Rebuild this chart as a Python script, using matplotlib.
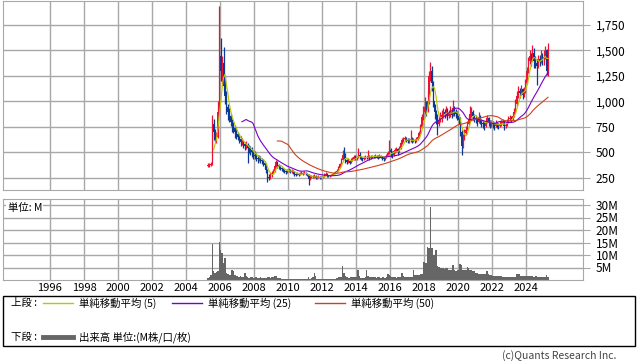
import numpy as np
import pandas as pd
import matplotlib
matplotlib.use('Agg')
import matplotlib.pyplot as plt
from matplotlib.lines import Line2D
from matplotlib.patches import Rectangle

plt.rcParams['font.family'] = ['Noto Sans CJK JP', 'DejaVu Sans']

# monthly candles, Apr 2005 .. Apr 2025
first_open = 370
closes = [
    375, 382, 390, 780, 700, 640, 650, 900, 1450,                      # 2005
    1300, 1380, 1150, 1050, 950, 900, 860, 800, 760, 740, 700, 680,    # 2006
    650, 630, 600, 610, 580, 560, 570, 540, 530, 520, 500, 480,        # 2007
    470, 450, 440, 450, 430, 420, 400, 380, 330, 260, 250, 280,        # 2008
    300, 320, 370, 410, 380, 360, 350, 340, 330, 320, 310, 320,        # 2009
    330, 310, 320, 310, 290, 280, 290, 280, 290, 300, 290, 300,        # 2010
    290, 280, 240, 260, 265, 260, 270, 250, 255, 260, 250, 255,        # 2011
    260, 280, 290, 275, 265, 270, 280, 290, 300, 310, 320, 350,        # 2012
    390, 430, 480, 470, 430, 410, 420, 400, 430, 440, 460, 450,        # 2013
    450, 480, 460, 445, 440, 450, 460, 455, 470, 450, 460, 465,        # 2014
    460, 470, 465, 455, 470, 460, 450, 440, 450, 470, 490, 520,        # 2015
    500, 480, 510, 520, 530, 500, 540, 590, 620, 630, 640, 620,        # 2016
    610, 620, 630, 615, 620, 610, 630, 650, 690, 750, 850, 900,        # 2017
    950, 920, 1000, 1250, 1300, 1180, 1000, 900, 850, 780, 820, 850,   # 2018
    870, 900, 880, 920, 860, 880, 900, 870, 940, 900, 880, 860,        # 2019
    820, 700, 560, 640, 690, 720, 780, 830, 880, 900, 860, 840,        # 2020
    830, 800, 850, 820, 790, 780, 760, 800, 840, 800, 770, 790,        # 2021
    780, 760, 790, 770, 760, 780, 790, 800, 760, 770, 800, 830,        # 2022
    840, 830, 860, 900, 980, 1050, 1100, 1080, 1120, 1060, 1100, 1180, # 2023
    1300, 1400, 1450, 1420, 1480, 1400, 1380, 1350, 1420, 1400, 1450, 1420,  # 2024
    1440, 1500, 1300, 1450,                                            # 2025
]
highs = [
    392, 398, 410, 870, 830, 730, 700, 1000, 1936,
    1620, 1450, 1534, 1250, 1100, 980, 940, 880, 830, 800, 770, 740,
    700, 680, 660, 640, 620, 600, 610, 590, 570, 560, 550, 520,
    510, 490, 480, 480, 470, 450, 440, 420, 400, 340, 290, 310,
    320, 340, 390, 426, 420, 390, 370, 360, 350, 340, 330, 340,
    345, 335, 335, 330, 315, 300, 305, 300, 305, 315, 310, 315,
    310, 300, 285, 275, 280, 275, 285, 275, 270, 275, 270, 268,
    270, 295, 305, 295, 280, 280, 290, 300, 310, 320, 335, 365,
    400, 450, 520, 555, 490, 440, 445, 430, 445, 455, 480, 475,
    470, 545, 500, 470, 460, 465, 475, 470, 520, 475, 475, 480,
    480, 485, 480, 475, 485, 480, 470, 460, 465, 485, 510, 622,
    540, 510, 525, 540, 550, 540, 560, 610, 640, 650, 660, 650,
    640, 645, 720, 650, 640, 635, 650, 670, 710, 780, 880, 960,
    1040, 1000, 1100, 1300, 1387, 1350, 1200, 980, 920, 880, 860, 900,
    920, 940, 930, 960, 940, 920, 960, 930, 1015, 960, 930, 910,
    880, 850, 720, 680, 730, 760, 810, 870, 960, 950, 920, 880,
    870, 850, 900, 870, 830, 820, 800, 830, 870, 850, 820, 820,
    810, 800, 820, 800, 790, 810, 820, 830, 810, 800, 830, 860,
    870, 860, 890, 940, 1020, 1100, 1150, 1130, 1160, 1130, 1140, 1220,
    1340, 1440, 1500, 1480, 1553, 1520, 1450, 1420, 1460, 1460, 1500, 1480,
    1500, 1540, 1510, 1573,
]
lows = [
    358, 362, 368, 380, 620, 600, 590, 640, 880,
    1200, 1150, 1100, 980, 880, 820, 800, 760, 700, 690, 640, 630,
    620, 590, 560, 570, 540, 520, 530, 400, 490, 480, 460, 440,
    440, 420, 400, 420, 400, 390, 370, 340, 300, 210, 230, 240,
    260, 290, 310, 360, 350, 340, 330, 320, 310, 300, 290, 300,
    305, 295, 300, 290, 270, 265, 275, 268, 275, 285, 280, 285,
    280, 265, 185, 230, 250, 245, 250, 235, 240, 245, 235, 240,
    245, 255, 275, 260, 255, 255, 265, 275, 285, 295, 305, 315,
    345, 385, 425, 440, 400, 385, 395, 385, 395, 420, 430, 430,
    430, 445, 440, 425, 420, 430, 440, 440, 445, 430, 440, 445,
    445, 450, 450, 440, 450, 445, 430, 420, 430, 445, 465, 480,
    460, 450, 470, 495, 500, 480, 495, 530, 580, 600, 610, 600,
    590, 595, 605, 595, 600, 590, 600, 620, 640, 680, 740, 820,
    880, 860, 900, 980, 1200, 1100, 950, 830, 780, 670, 760, 800,
    800, 840, 840, 860, 820, 840, 850, 840, 860, 860, 840, 820,
    780, 660, 475, 540, 620, 680, 720, 770, 820, 850, 820, 800,
    790, 760, 790, 780, 750, 740, 720, 750, 790, 760, 740, 750,
    740, 720, 750, 740, 730, 750, 760, 770, 720, 740, 760, 790,
    800, 800, 820, 850, 890, 960, 1030, 1030, 1060, 1020, 1040, 1080,
    1170, 1280, 1370, 1350, 1400, 1330, 1330, 1160, 1330, 1350, 1380, 1360,
    1360, 1420, 1260, 1250,
]
# volume, millions
volumes = [
    1.0, 1.2, 2.0, 14.4, 3.5, 3.0, 3.2, 3.8, 15.2,
    12.0, 10.8, 7.0, 9.0, 3.0, 2.5, 2.0, 2.2, 4.0, 3.8, 2.0, 1.6,
    1.5, 1.4, 1.8, 1.3, 1.2, 2.8, 1.5, 1.2, 1.0, 1.1, 1.3, 1.0,
    1.0, 1.2, 0.9, 1.0, 1.1, 0.8, 0.9, 0.8, 1.0, 1.2, 1.3, 1.0,
    1.1, 1.3, 1.6, 1.8, 1.0, 0.8, 0.7, 0.6, 0.6, 0.5, 0.5, 0.5,
    0.4, 0.4, 0.5, 0.4, 0.4, 0.3, 0.3, 0.3, 0.3, 0.4, 0.3, 0.3,
    0.4, 0.5, 1.2, 0.6, 0.8, 1.2, 2.8, 1.5, 0.6, 0.4, 0.4, 0.4,
    0.5, 0.5, 0.6, 0.5, 0.4, 0.4, 0.5, 0.5, 0.6, 0.6, 0.8, 1.2,
    1.2, 1.4, 5.6, 3.0, 1.5, 1.2, 1.0, 1.0, 1.2, 1.2, 1.4, 1.2,
    1.2, 4.0, 1.5, 1.0, 1.0, 1.0, 1.1, 4.0, 1.5, 1.2, 1.2, 1.2,
    1.2, 1.1, 1.0, 1.2, 1.1, 1.0, 1.2, 1.1, 1.0, 1.2, 2.4, 2.0,
    1.5, 1.2, 1.1, 1.2, 1.0, 1.1, 1.2, 1.3, 2.8, 1.5, 1.2, 1.2,
    1.2, 1.3, 1.2, 1.4, 4.0, 2.0, 2.0, 2.0, 2.2, 2.4, 2.5, 7.2,
    7.2, 6.8, 13.2, 13.0, 29.2, 12.8, 10.0, 10.2, 12.0, 5.5, 5.2, 5.0,
    5.0, 4.8, 4.6, 4.8, 4.8, 4.2, 4.0, 4.0, 6.0, 4.2, 3.8, 4.0,
    4.0, 6.4, 6.2, 4.2, 4.0, 4.0, 5.2, 5.0, 4.2, 4.0, 3.8, 3.6,
    3.0, 2.8, 2.6, 2.4, 2.4, 2.6, 2.5, 2.4, 3.6, 2.4, 2.2, 2.0,
    1.8, 1.6, 1.6, 1.5, 1.6, 1.5, 1.6, 1.4, 1.4, 1.3, 1.2, 1.2,
    1.2, 1.2, 1.1, 1.2, 1.4, 2.6, 2.6, 2.4, 1.8, 1.8, 1.8, 1.7,
    1.8, 1.8, 1.6, 1.6, 1.5, 1.4, 1.5, 1.6, 1.4, 1.4, 1.3, 1.3,
    1.3, 1.4, 2.0, 1.2,
]
price_ticks = [250, 500, 750, 1000, 1250, 1500, 1750]
vol_ticks = [5, 10, 15, 20, 25, 30]
year_ticks = list(range(1996, 2025, 2))

n = len(closes)
t = 2005 + 3 / 12 + (np.arange(n) + 0.5) / 12
opens = [first_open] + closes[:-1]
df = pd.DataFrame({'t': t, 'o': opens, 'h': highs, 'l': lows, 'c': closes, 'v': volumes})
ma5 = df['c'].rolling(5).mean()
ma25 = df['c'].rolling(25).mean()
ma50 = df['c'].rolling(50).mean()

UP = '#ee1133'
DOWN = '#0a3a96'
C5 = '#b8c800'
C25 = '#7a00c8'
C50 = '#d0401a'
GRID = '#a8a8a8'

fig = plt.figure(figsize=(6.38, 3.62), dpi=100)
W, H = 638, 362

ax1 = fig.add_axes([3 / W, 1 - 190 / H, 580 / W, 189 / H])
ax2 = fig.add_axes([3 / W, 1 - 280 / H, 580 / W, 81 / H])

up = df['c'] >= df['o']
cols = np.where(up, UP, DOWN)
ax1.vlines(df['t'], df['l'], df['h'], colors=cols, linewidth=0.9)
ax1.bar(df['t'], (df['c'] - df['o']).abs(), bottom=np.minimum(df['c'], df['o']),
        width=0.07, color=cols, linewidth=0)
ax1.plot(df['t'], ma5, color=C5, lw=0.8)
ax1.plot(df['t'], ma25, color=C25, lw=0.8)
ax1.plot(df['t'], ma50, color=C50, lw=0.8)

ax2.bar(df['t'], df['v'], width=1 / 12, color='#666666', linewidth=0)

for ax in (ax1, ax2):
    ax.set_xlim(1993.235, 2027.35)
    ax.set_xticks(year_ticks)
    ax.grid(True, color=GRID, lw=1)
    ax.set_axisbelow(True)
    for s in ax.spines.values():
        s.set_color(GRID)
    ax.yaxis.tick_right()
    ax.tick_params(axis='y', length=5, color=GRID, labelsize=8.5, pad=4)
    ax.tick_params(axis='x', length=0, labelsize=8, pad=2)

ax1.set_ylim(132, 1985)
ax1.set_yticks(price_ticks)
ax1.set_yticklabels([f'{v:,}' for v in price_ticks])
ax1.set_xticklabels([])

ax2.set_ylim(0, 32.4)
ax2.set_yticks(vol_ticks)
ax2.set_yticklabels([f'{v}M' for v in vol_ticks])
ax2.set_xticklabels([str(y) for y in year_ticks])
ax2.text(0.008, 0.95, '単位: M', transform=ax2.transAxes, fontsize=7.5, va='top', ha='left',
         bbox=dict(facecolor='white', edgecolor='none', pad=1))

# legend box
def fx(px):
    return px / W

def fy(py):
    return 1 - py / H

fig.add_artist(Rectangle((fx(3), fy(346)), 632 / W, 50 / H, fill=False, edgecolor='black', lw=1))
fs = 7.5
fig.text(fx(11), fy(303), '上段 :', fontsize=fs, va='center')
for x0, c, lab in [(43, C5, '単純移動平均 (5)'), (172, C25, '単純移動平均 (25)'), (315, C50, '単純移動平均 (50)')]:
    fig.add_artist(Line2D([fx(x0), fx(x0 + 30)], [fy(303), fy(303)], color=c, lw=1))
    fig.text(fx(x0 + 36), fy(303), lab, fontsize=fs, va='center')
fig.text(fx(11), fy(337), '下段 :', fontsize=fs, va='center')
fig.add_artist(Line2D([fx(43), fx(73)], [fy(337), fy(337)], color='#666666', lw=3.5))
fig.text(fx(79), fy(337), '出来高 単位:(M株/口/枚)', fontsize=fs, va='center')
fig.text(fx(616), fy(356), '(c)Quants Research Inc.', fontsize=7.5, va='center', ha='right', color='#444444')

fig.savefig('out.png', dpi=100)
